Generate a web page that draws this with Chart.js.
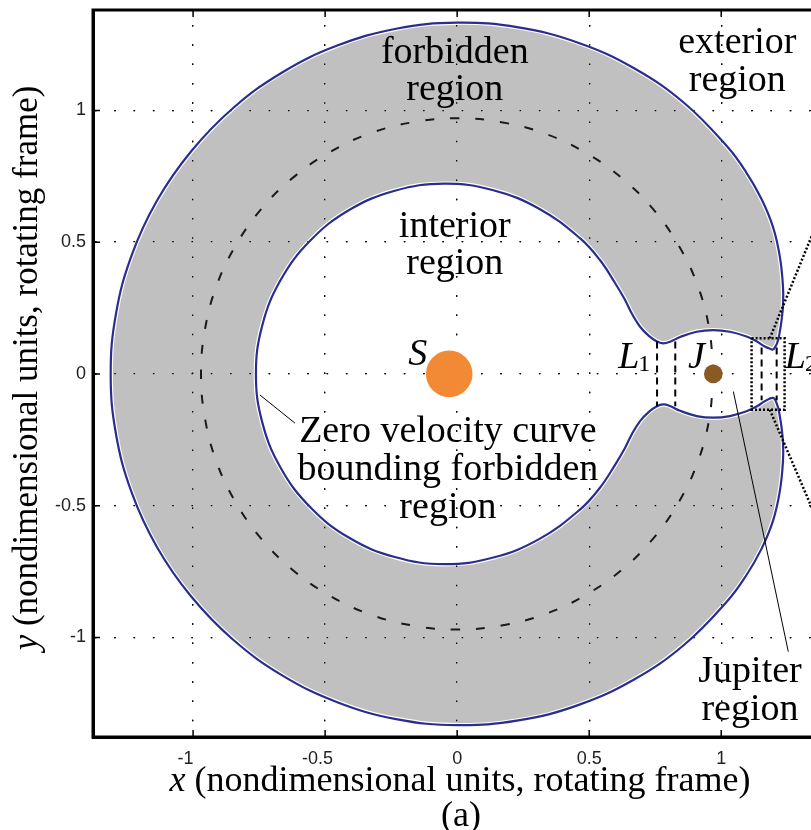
<!DOCTYPE html>
<html>
<head>
<meta charset="utf-8">
<script src="https://cdn.jsdelivr.net/npm/chart.js@4.4.1/dist/chart.umd.min.js"></script>
<style>
  html, body { margin: 0; padding: 0; background: #fff; overflow: hidden; }
</style>
</head>
<body>
<canvas id="mycanvas" width="811" height="830"></canvas>
<script>
var xTicks = [-1, -0.5, 0, 0.5, 1];
var yTicks = [-1, -0.5, 0, 0.5, 1];

// zero velocity curve, walked once round the forbidden region
// outside edge, from the upper L2 neck counter clockwise to the lower L2 neck
var outerEdge = [
	[1.197, 0.091], [1.211, 0.115], [1.220, 0.150], [1.228, 0.200], [1.234, 0.260],
	[1.234, 0.331], [1.222, 0.445], [1.196, 0.558], [1.152, 0.665], [1.094, 0.766],
	[1.025, 0.860], [0.861, 1.027], [0.670, 1.160], [0.458, 1.257], [0.232, 1.315],
	[0.000, 1.333], [-0.231, 1.310], [-0.454, 1.246], [-0.661, 1.145], [-0.847, 1.010],
	[-1.007, 0.845], [-1.137, 0.657], [-1.233, 0.449], [-1.292, 0.228], [-1.312, 0.000],
	[-1.292, -0.228], [-1.233, -0.449], [-1.137, -0.657], [-1.007, -0.845], [-0.847, -1.010],
	[-0.661, -1.145], [-0.454, -1.246], [-0.231, -1.310], [0.000, -1.333], [0.232, -1.315],
	[0.458, -1.257], [0.670, -1.160], [0.861, -1.027], [1.025, -0.860], [1.094, -0.766],
	[1.152, -0.665], [1.196, -0.558], [1.222, -0.445], [1.234, -0.331], [1.234, -0.260],
	[1.228, -0.200], [1.220, -0.150], [1.211, -0.115], [1.197, -0.091]
];
// lower side of the Jupiter region, L2 to L1
var jupiterLow = [
	[1.165, -0.104], [1.134, -0.124], [1.096, -0.142], [1.033, -0.160], [0.970, -0.166],
	[0.907, -0.160], [0.844, -0.140], [0.806, -0.122], [0.780, -0.116]
];
// edge of the interior region, from the lower L1 neck round the Sun
var innerEdge = [
	[0.755, -0.124], [0.725, -0.145], [0.692, -0.180], [0.662, -0.228], [0.635, -0.282],
	[0.598, -0.345], [0.540, -0.433], [0.465, -0.515], [0.312, -0.626], [0.137, -0.697],
	[-0.050, -0.722], [-0.236, -0.695], [-0.409, -0.622], [-0.556, -0.506], [-0.668, -0.357],
	[-0.738, -0.184], [-0.762, 0.000],
	[-0.738, 0.184], [-0.668, 0.357], [-0.556, 0.506], [-0.409, 0.622], [-0.236, 0.695],
	[-0.050, 0.722], [0.137, 0.697], [0.312, 0.626], [0.465, 0.515], [0.540, 0.433],
	[0.598, 0.345], [0.635, 0.282], [0.662, 0.228], [0.692, 0.180], [0.725, 0.145],
	[0.755, 0.124], [0.780, 0.116]
];
// upper side of the Jupiter region, L1 back to L2
var jupiterHigh = [
	[0.806, 0.122], [0.844, 0.140], [0.907, 0.160], [0.970, 0.166], [1.033, 0.160],
	[1.096, 0.142], [1.134, 0.124], [1.165, 0.104], [1.197, 0.091]
];

// Jupiter's orbit (dashed)
var orbit = [
	[0.970, 0.000], [0.955, 0.168], [0.912, 0.332], [0.840, 0.485], [0.743, 0.624], [0.624, 0.743],
	[0.485, 0.840], [0.332, 0.912], [0.168, 0.955], [0.000, 0.970], [-0.168, 0.955], [-0.332, 0.912],
	[-0.485, 0.840], [-0.624, 0.743], [-0.743, 0.624], [-0.840, 0.485], [-0.912, 0.332], [-0.955, 0.168],
	[-0.970, 0.000], [-0.955, -0.168], [-0.912, -0.332], [-0.840, -0.485], [-0.743, -0.624], [-0.624, -0.743],
	[-0.485, -0.840], [-0.332, -0.912], [-0.168, -0.955], [0.000, -0.970], [0.168, -0.955], [0.332, -0.912],
	[0.485, -0.840], [0.624, -0.743], [0.743, -0.624], [0.840, -0.485], [0.912, -0.332], [0.955, -0.168],
	[0.970, 0.000]
];

var sun = [[-0.03, 0.0]];
var jupiter = [[0.97, 0.0]];

// necks at L1 and L2
var l1a = [[0.757, 0.123], [0.757, -0.123]];
var l1b = [[0.826, 0.123], [0.826, -0.123]];
var l2a = [[1.153, 0.100], [1.153, -0.100]];
var l2b = [[1.210, 0.100], [1.210, -0.100]];
var l2Box = [[1.115, 0.135], [1.240, 0.135], [1.240, -0.136], [1.115, -0.136], [1.115, 0.135]];
var zoomUp = [[1.184, 0.135], [1.380, 0.615]];
var zoomDown = [[1.184, -0.136], [1.380, -0.594]];

// pointers for the notes
var zeroPointer = [[-0.747, -0.080], [-0.614, -0.187]];
var jupiterPointer = [[1.046, -0.067], [1.254, -1.054]];

function pts(list) {
	return list.map(function(p){ return {x: p[0], y: p[1]}; });
}

function line(list, color, width, dash) {
	return {
		data: pts(list),
		showLine: true,
		fill: false,
		borderColor: color,
		borderWidth: width,
		borderDash: dash || [],
		pointRadius: 0,
		tension: 0,
		order: 5
	};
}

var edge = outerEdge.concat(jupiterLow, innerEdge, jupiterHigh);

var serif = "'Liberation Serif', 'Times New Roman', serif";

var overlay = {
	id: 'overlay',
	afterDatasetDraw: function(chart, args) {
		// dotted grid shows through the grey area
		if (args.index === 0) {
			chart.scales.x.drawGrid(chart.chartArea);
			chart.scales.y.drawGrid(chart.chartArea);
		}
	},
	afterDraw: function(chart) {
		var ctx = chart.ctx;
		var a = chart.chartArea;
		var sx = chart.scales.x, sy = chart.scales.y;
		ctx.save();

		// inward tick marks
		ctx.strokeStyle = '#000';
		ctx.lineWidth = 1.5;
		ctx.beginPath();
		xTicks.forEach(function(v){
			var px = sx.getPixelForValue(v);
			ctx.moveTo(px, a.bottom); ctx.lineTo(px, a.bottom - 7);
			ctx.moveTo(px, a.top); ctx.lineTo(px, a.top + 7);
		});
		yTicks.forEach(function(v){
			var py = sy.getPixelForValue(v);
			ctx.moveTo(a.left, py); ctx.lineTo(a.left + 7, py);
		});
		ctx.stroke();

		// frame (the right side is cut off in the figure)
		ctx.lineWidth = 3;
		ctx.beginPath();
		ctx.moveTo(a.right + 2, a.top);
		ctx.lineTo(a.left, a.top);
		ctx.lineTo(a.left, a.bottom);
		ctx.lineTo(a.right + 2, a.bottom);
		ctx.stroke();

		// notes inside the plot
		ctx.fillStyle = '#000';
		ctx.textAlign = 'center';
		ctx.textBaseline = 'alphabetic';
		ctx.font = '38px ' + serif;
		var notes = [
			['forbidden', -0.009, 1.179], ['region', -0.009, 1.040],
			['exterior', 1.061, 1.217], ['region', 1.061, 1.075],
			['interior', -0.009, 0.519], ['region', -0.009, 0.378],
			['Zero velocity curve', -0.035, -0.257], ['bounding forbidden', -0.035, -0.402], ['region', -0.035, -0.548],
			['Jupiter', 1.109, -1.168], ['region', 1.109, -1.313]
		];
		notes.forEach(function(n){
			ctx.fillText(n[0], sx.getPixelForValue(n[1]), sy.getPixelForValue(n[2]));
		});

		// body names
		ctx.textAlign = 'left';
		function named(main, sub, x, y) {
			var px = sx.getPixelForValue(x), py = sy.getPixelForValue(y);
			ctx.font = 'italic 38px ' + serif;
			ctx.fillText(main, px, py);
			if (sub) {
				var w = ctx.measureText(main).width;
				ctx.font = '24px ' + serif;
				ctx.fillText(sub, px + w - 1, py + 3);
			}
		}
		named('S', '', -0.185, 0.034);
		named('L', '1', 0.610, 0.022);
		named('J', '', 0.874, 0.022);
		named('L', '2', 1.241, 0.022);

		// axis titles with italic variable names
		function title(v, rest, size) {
			ctx.font = 'italic ' + size + 'px ' + serif;
			var w1 = ctx.measureText(v).width;
			ctx.font = size + 'px ' + serif;
			var w2 = ctx.measureText(rest).width;
			var x0 = -(w1 + w2) / 2;
			ctx.font = 'italic ' + size + 'px ' + serif;
			ctx.fillText(v, x0, 0);
			ctx.font = size + 'px ' + serif;
			ctx.fillText(rest, x0 + w1, 0);
		}
		ctx.save();
		ctx.translate(460, 791);
		title('x', ' (nondimensional units, rotating frame)', 36);
		ctx.restore();

		ctx.save();
		ctx.translate(37, 368);
		ctx.rotate(-Math.PI / 2);
		title('y', ' (nondimensional units, rotating frame)', 35);
		ctx.restore();

		ctx.font = '36px ' + serif;
		ctx.textAlign = 'center';
		ctx.fillText('(a)', 461, 826);

		ctx.restore();
	}
};

var tickFont = { family: "'Liberation Sans', Arial, sans-serif", size: 18 };

var ctx = document.getElementById('mycanvas');

var graph = new Chart(ctx, {
	type: 'scatter',
	data: {
		datasets: [
			{
				data: pts(edge),
				showLine: true,
				fill: 'shape',
				backgroundColor: '#c0c0c0',
				borderColor: '#ffffff',
				borderWidth: 4.5,
				pointRadius: 0,
				tension: 0.4,
				order: 10
			},
			{
				data: pts(edge),
				showLine: true,
				fill: false,
				borderColor: '#2b2d8e',
				borderWidth: 2.2,
				pointRadius: 0,
				tension: 0.4,
				order: 9
			},
			{
				data: pts(orbit),
				showLine: true,
				fill: false,
				borderColor: '#1a1a1a',
				borderWidth: 2,
				borderDash: [9, 16],
				pointRadius: 0,
				tension: 0.4,
				order: 8
			},
			line(l1a, '#000', 2, [7, 5]),
			line(l1b, '#000', 2, [7, 5]),
			line(l2a, '#000', 2, [7, 5]),
			line(l2b, '#000', 2, [7, 5]),
			line(l2Box, '#000', 2.5, [2, 2]),
			line(zoomUp, '#000', 2.5, [2, 2]),
			line(zoomDown, '#000', 2.5, [2, 2]),
			line(zeroPointer, '#000', 1, []),
			line(jupiterPointer, '#000', 1, []),
			{
				data: pts(sun),
				pointRadius: 23.3,
				backgroundColor: '#f28a35',
				borderWidth: 0,
				order: 1
			},
			{
				data: pts(jupiter),
				pointRadius: 9.3,
				backgroundColor: '#8b5a22',
				borderWidth: 0,
				order: 1
			}
		]
	},
	options: {
		responsive: false,
		animation: false,
		events: [],
		layout: { autoPadding: false, padding: { top: 10, right: 0, left: 0, bottom: 0 } },
		plugins: {
			legend: { display: false },
			tooltip: { enabled: false }
		},
		scales: {
			x: {
				type: 'linear',
				min: -1.379,
				max: 1.340,
				afterBuildTicks: function(s){ s.ticks = xTicks.map(function(v){ return {value: v}; }); },
				afterFit: function(s){ s.height = 93; s.paddingLeft = 0; s.paddingRight = 0; },
				grid: { color: '#000', lineWidth: 1.3, drawTicks: false },
				border: { display: true, color: '#000', width: 3, dash: [1.5, 17.8], dashOffset: 4.3 },
				ticks: { font: tickFont, color: '#222', padding: 11, maxRotation: 0,
					// negative labels sit a little left of their tick in the figure
					callback: function(v){ return v < 0 ? String(v) + '   ' : String(v); } }
			},
			y: {
				type: 'linear',
				min: -1.378,
				max: 1.381,
				afterBuildTicks: function(s){ s.ticks = yTicks.map(function(v){ return {value: v}; }); },
				afterFit: function(s){ s.width = 93; s.paddingTop = 0; s.paddingBottom = 0; },
				grid: { color: '#000', lineWidth: 1.3, drawTicks: false },
				border: { display: true, color: '#000', width: 3, dash: [1.5, 17.8], dashOffset: 0 },
				ticks: { font: tickFont, color: '#222', padding: 7,
					callback: function(v){ return String(v); } }
			}
		}
	},
	plugins: [overlay]
});
</script>
</body>
</html>
